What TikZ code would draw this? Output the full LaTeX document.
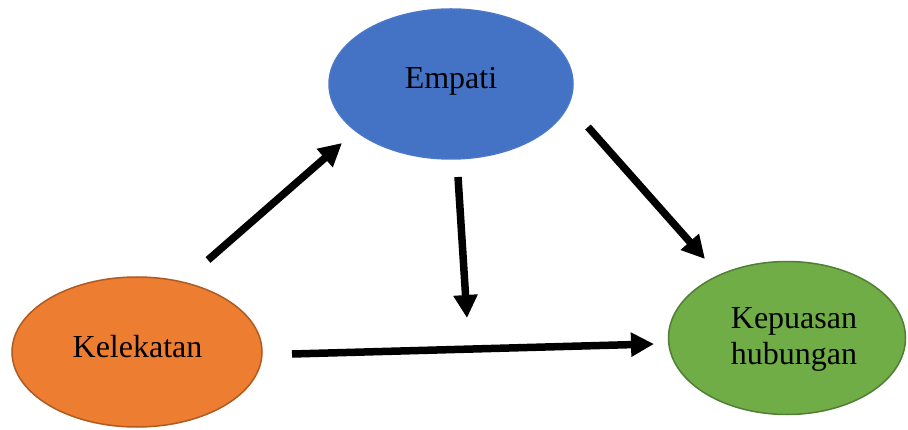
\documentclass[tikz,border=0pt]{standalone}
\usepackage{fontspec}
\setmainfont{Liberation Serif}
\usetikzlibrary{shapes.geometric,arrows.meta}
\definecolor{eblue}{HTML}{4472C4}
\definecolor{eblueb}{HTML}{4A78C8}
\definecolor{eorange}{HTML}{ED7D31}
\definecolor{eorangeb}{HTML}{AE5A21}
\definecolor{egreen}{HTML}{70AD47}
\definecolor{egreenb}{HTML}{507E32}
\begin{document}
\begin{tikzpicture}[x=1pt,y=-1pt,
  oval/.style={ellipse,inner sep=0pt,line width=1.5pt},
  lbl/.style={anchor=base,inner sep=0pt,font=\fontsize{32}{36}\selectfont},
  arr/.style={line width=7.5pt,-{Triangle[length=23pt,width=23pt]}}]
\useasboundingbox (0,0) rectangle (908,430);
\node[oval,fill=eblue,draw=eblueb,minimum width=244pt,minimum height=150pt] (emp) at (451,84) {};
\node[oval,fill=eorange,draw=eorangeb,minimum width=250pt,minimum height=150pt] (kel) at (137,352) {};
\node[oval,fill=egreen,draw=egreenb,minimum width=237pt,minimum height=153pt] (kep) at (787,338) {};
\node[lbl] (empt) at (451,89) {Empati};
\node[lbl] (kelt) at (137.5,358) {Kelekatan};
\node[lbl] (kept1) at (794,329) {Kepuasan};
\node[lbl] (kept2) at (794,365) {hubungan};
\coordinate (a1s) at (208,260); \coordinate (a1e) at (342,143);
\coordinate (a2s) at (588,127); \coordinate (a2e) at (705,259);
\coordinate (a3s) at (458,177); \coordinate (a3e) at (467,318);
\coordinate (a4s) at (292,354); \coordinate (a4e) at (654,344);
\draw[arr] (a1s) -- (a1e);
\draw[arr] (a2s) -- (a2e);
\draw[arr] (a3s) -- (a3e);
\draw[arr] (a4s) -- (a4e);
\end{tikzpicture}
\end{document}
